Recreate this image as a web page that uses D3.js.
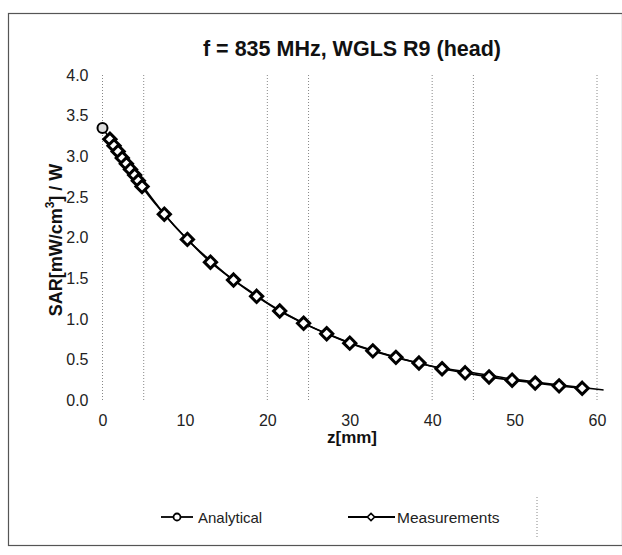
<!DOCTYPE html>
<html>
<head>
<meta charset="utf-8">
<script src="https://cdn.jsdelivr.net/npm/d3@7"></script>
<style>
  body { margin: 0; background: #fff; }
  text { font-family: "Liberation Sans", Arial, sans-serif; }
</style>
</head>
<body>
<script>
var width = 622;
var height = 555;

// analytical curve (line, circle marker at the surface point)
var analyticalZ = [0, 1, 2, 3, 4, 5, 7.5, 10, 12.5, 15, 17.5, 20, 22.5, 25, 27.5, 30, 35, 40, 45, 50, 55, 60.8];
var analyticalSAR = [3.35, 3.20, 3.05, 2.90, 2.76, 2.62, 2.29, 2.01, 1.77, 1.55, 1.37, 1.20, 1.05, 0.92, 0.81, 0.71, 0.55, 0.42, 0.34, 0.26, 0.195, 0.13];

// measured points
var measZ = [0.9, 1.4, 1.9, 2.4, 2.9, 3.4, 3.9, 4.35, 4.8,
    7.5, 10.3, 13.1, 15.9, 18.7, 21.5, 24.4, 27.2, 30.0, 32.8, 35.6, 38.4, 41.2, 44.0, 46.9, 49.7, 52.5, 55.4, 58.2];
var measSAR = [3.21, 3.13, 3.06, 2.98, 2.91, 2.84, 2.77, 2.70, 2.63,
    2.29, 1.98, 1.70, 1.48, 1.28, 1.10, 0.95, 0.82, 0.705, 0.61, 0.53, 0.46, 0.39, 0.34, 0.29, 0.25, 0.215, 0.18, 0.15];

var xTicks = [0, 10, 20, 30, 40, 50, 60];
var yTicks = [0, 0.5, 1.0, 1.5, 2.0, 2.5, 3.0, 3.5, 4.0];
var gridZ = [0, 5, 20, 25, 40, 45, 60];

var svg = d3.select("body")
    .append("svg")
    .attr("width", width)
    .attr("height", height);

// outer chart frame
svg.append("rect")
    .attr("x", 8.5).attr("y", 13.5)
    .attr("width", 614).attr("height", 532)
    .attr("fill", "none")
    .attr("stroke", "#555")
    .attr("stroke-width", 1.2);

var x = d3.scaleLinear().domain([0, 60]).range([102.5, 597]);
var y = d3.scaleLinear().domain([0, 4]).range([400.5, 75]);

// dotted vertical grid
svg.append("g")
    .selectAll("line")
    .data(gridZ)
    .enter().append("line")
    .attr("x1", function(d) { return x(d); })
    .attr("x2", function(d) { return x(d); })
    .attr("y1", y(4))
    .attr("y2", y(0))
    .attr("stroke", "#888")
    .attr("stroke-width", 1)
    .attr("stroke-dasharray", "1,2");

var xAxis = svg.append("g")
    .attr("transform", "translate(0," + y(0) + ")")
    .call(d3.axisBottom(x).tickValues(xTicks).tickSize(0).tickPadding(14).tickFormat(d3.format("d")));
xAxis.select(".domain").remove();
xAxis.selectAll("text").attr("font-size", 16).attr("fill", "#222");

var yAxis = svg.append("g")
    .attr("transform", "translate(" + x(0) + ",0)")
    .call(d3.axisLeft(y).tickValues(yTicks).tickSize(0).tickPadding(14).tickFormat(d3.format(".1f")));
yAxis.select(".domain").remove();
yAxis.selectAll("text").attr("font-size", 16).attr("fill", "#222");

// title and axis labels
svg.append("text")
    .attr("x", 352).attr("y", 56)
    .attr("text-anchor", "middle")
    .attr("font-size", 21.5)
    .attr("font-weight", "bold")
    .attr("fill", "#111")
    .text("f = 835 MHz, WGLS R9 (head)");

svg.append("text")
    .attr("x", 352).attr("y", 443)
    .attr("text-anchor", "middle")
    .attr("font-size", 17)
    .attr("font-weight", "bold")
    .attr("fill", "#111")
    .text("z[mm]");

var yl = svg.append("text")
    .attr("transform", "translate(62,240) rotate(-90)")
    .attr("text-anchor", "middle")
    .attr("font-size", 18)
    .attr("font-weight", "bold")
    .attr("fill", "#111");
yl.append("tspan").text("SAR[mW/cm");
yl.append("tspan").attr("dy", -8).attr("font-size", 12).text("3");
yl.append("tspan").attr("dy", 8).text("] / W");

var line = d3.line()
    .x(function(d) { return x(d[0]); })
    .y(function(d) { return y(d[1]); })
    .curve(d3.curveMonotoneX);

var aPts = analyticalZ.map(function(z, i) { return [z, analyticalSAR[i]]; });
var mPts = measZ.map(function(z, i) { return [z, measSAR[i]]; });

svg.append("path")
    .datum(aPts)
    .attr("d", line)
    .attr("fill", "none")
    .attr("stroke", "#000")
    .attr("stroke-width", 1.6);

svg.append("path")
    .datum(mPts)
    .attr("d", line)
    .attr("fill", "none")
    .attr("stroke", "#000")
    .attr("stroke-width", 1.6);

// analytical markers beyond the surface point sit under the measurements
svg.append("g")
    .selectAll("circle")
    .data(aPts.slice(0, 1))
    .enter().append("circle")
    .attr("cx", function(d) { return x(d[0]); })
    .attr("cy", function(d) { return y(d[1]); })
    .attr("r", 5)
    .attr("fill", "#ddd")
    .attr("stroke", "#000")
    .attr("stroke-width", 2);

var diamond = d3.symbol().type(d3.symbolDiamond2).size(95);

svg.append("g")
    .selectAll("path")
    .data(mPts)
    .enter().append("path")
    .attr("d", diamond)
    .attr("transform", function(d) { return "translate(" + x(d[0]) + "," + y(d[1]) + ")"; })
    .attr("fill", "#fff")
    .attr("stroke", "#000")
    .attr("stroke-width", 3);

// legend
var leg = svg.append("g");
leg.append("line").attr("x1", 161).attr("x2", 193).attr("y1", 517).attr("y2", 517)
    .attr("stroke", "#000").attr("stroke-width", 1.8);
leg.append("circle").attr("cx", 177).attr("cy", 517).attr("r", 3.5)
    .attr("fill", "#fff").attr("stroke", "#000").attr("stroke-width", 1.8);
leg.append("text").attr("x", 198).attr("y", 523).attr("font-size", 15).attr("fill", "#222").text("Analytical");

leg.append("line").attr("x1", 348).attr("x2", 395).attr("y1", 517).attr("y2", 517)
    .attr("stroke", "#000").attr("stroke-width", 1.8);
leg.append("path").attr("d", d3.symbol().type(d3.symbolDiamond2).size(34))
    .attr("transform", "translate(371,517)")
    .attr("fill", "#fff").attr("stroke", "#000").attr("stroke-width", 1.6);
leg.append("text").attr("x", 397).attr("y", 523).attr("font-size", 15.5).attr("fill", "#222").text("Measurements");

leg.append("line").attr("x1", 537).attr("x2", 537).attr("y1", 497).attr("y2", 537)
    .attr("stroke", "#888").attr("stroke-dasharray", "1,2");
</script>
</body>
</html>
